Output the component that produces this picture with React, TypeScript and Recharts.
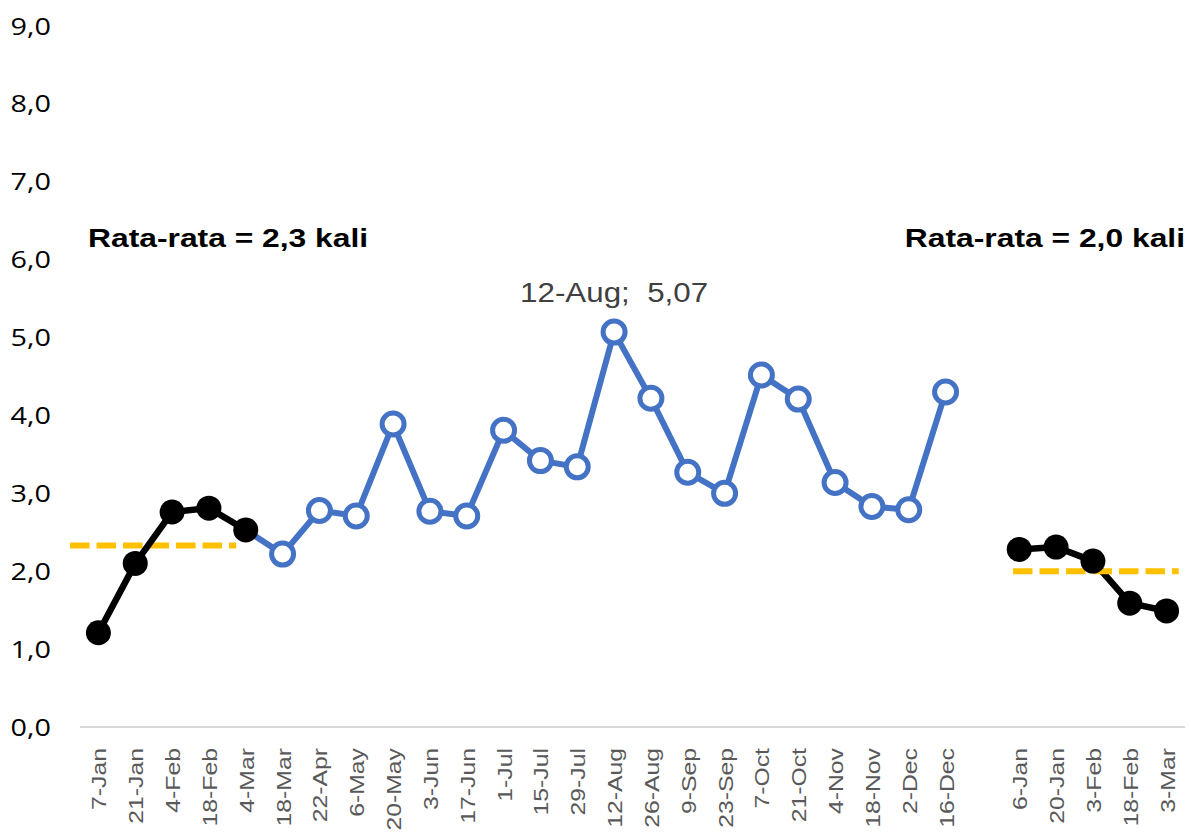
import {
  LineChart,
  Line,
  XAxis,
  YAxis,
  ReferenceLine,
  LabelList,
  Customized,
} from "recharts";

// periods of the x axis, "" is the gap between the two years
const categories = [
  "7-Jan", "21-Jan", "4-Feb", "18-Feb", "4-Mar", "18-Mar", "22-Apr", "6-May",
  "20-May", "3-Jun", "17-Jun", "1-Jul", "15-Jul", "29-Jul", "12-Aug", "26-Aug",
  "9-Sep", "23-Sep", "7-Oct", "21-Oct", "4-Nov", "18-Nov", "2-Dec", "16-Dec",
  "",
  "6-Jan", "20-Jan", "3-Feb", "18-Feb", "3-Mar",
];

// 7-Jan .. 4-Mar
const startValues = [1.21, 2.1, 2.76, 2.81, 2.53];
// 4-Mar .. 16-Dec
const midValues = [
  2.53, 2.22, 2.78, 2.71, 3.89, 2.77, 2.71, 3.81, 3.42, 3.34,
  5.07, 4.22, 3.27, 3.0, 4.52, 4.21, 3.14, 2.83, 2.79, 4.3,
];
// 6-Jan .. 3-Mar
const endValues = [2.28, 2.31, 2.13, 1.59, 1.49];

// averages and the stretch of category units they are drawn over
const averages = [2.33, 2.0];
const averageSpans = [
  [-0.77, 3.74],
  [24.83, 29.33],
];

const yTicks = [0, 1, 2, 3, 4, 5, 6, 7, 8, 9];

const midOffset = categories.indexOf("4-Mar");
const endOffset = categories.indexOf("6-Jan");
const peak = Math.max(...midValues);

const data = categories.map((label, i) => ({
  idx: i,
  label,
  start: i < startValues.length ? startValues[i] : null,
  mid: i >= midOffset && i - midOffset < midValues.length ? midValues[i - midOffset] : null,
  end: i >= endOffset ? endValues[i - endOffset] : null,
}));

const comma = (v: number, d: number) => v.toFixed(d).replace(".", ",");

const BLUE = "#4472C4";
const GOLD = "#FFC000";
const ARIAL = "'Liberation Sans', Arial, sans-serif";

function XTick({ x, y, payload }: any) {
  const label = categories[payload.value] ?? "";
  return (
    <g transform={`translate(${x},${y}) rotate(-90) scale(1.18,1)`}>
      <text textAnchor="end" dy="0.38em" fontFamily={ARIAL} fontSize={21} fill="#595959">
        {label}
      </text>
    </g>
  );
}

function YTick({ x, y, payload }: any) {
  return (
    <g transform={`translate(${x},${y}) scale(1.2,1)`}>
      <text textAnchor="end" dy="0.357em" fontFamily="'Open Sans', sans-serif" fontSize={24} fill="#000">
        {comma(payload.value, 1)}
      </text>
    </g>
  );
}

function BlueDot({ cx, cy, index }: any) {
  if (cx == null || cy == null || index === midOffset) return <g key={`b-${index}`} />;
  return <circle key={`b-${index}`} cx={cx} cy={cy} r={11} fill="#fff" stroke={BLUE} strokeWidth={5} />;
}

function PeakLabel({ x, y, value, index }: any) {
  if (value !== peak) return null;
  return (
    <g transform={`translate(${x},${y - 30}) scale(1.16,1)`}>
      <text textAnchor="middle" fontFamily={ARIAL} fontSize={27} fill="#404040" style={{ whiteSpace: "pre" }}>
        {`${categories[index]};  ${comma(value, 2)}`}
      </text>
    </g>
  );
}

function Annotations() {
  const style = { fontFamily: ARIAL, fontSize: 26.5, fontWeight: 700, fill: "#000" };
  return (
    <g>
      <g transform="translate(88,246.7) scale(1.2,1)">
        <text style={style}>{`Rata-rata = ${comma(averages[0], 1)} kali`}</text>
      </g>
      <g transform="translate(1185,246.7) scale(1.2,1)">
        <text style={style} textAnchor="end">{`Rata-rata = ${comma(averages[1], 1)} kali`}</text>
      </g>
    </g>
  );
}

export default function App() {
  return (
    <div style={{ position: "absolute", left: 0, top: 0, background: "#fff" }}>
      <LineChart width={1191} height={834} data={data} margin={{ top: 26, right: 6, bottom: 0, left: 0 }}>
        <XAxis
          dataKey="idx"
          type="number"
          domain={[-0.5, categories.length - 0.5]}
          ticks={categories.map((_, i) => i)}
          interval={0}
          tick={<XTick />}
          tickLine={false}
          tickSize={0}
          tickMargin={21}
          axisLine={{ stroke: "#D9D9D9", strokeWidth: 2 }}
          height={107}
        />
        <YAxis
          domain={[0, 9]}
          ticks={yTicks}
          tick={<YTick />}
          tickLine={false}
          tickSize={0}
          tickMargin={29}
          axisLine={false}
          width={80}
        />
        <ReferenceLine
          segment={[
            { x: averageSpans[0][0], y: averages[0] },
            { x: averageSpans[0][1], y: averages[0] },
          ]}
          stroke={GOLD}
          strokeWidth={6}
          strokeDasharray="19.5 7"
          ifOverflow="visible"
        />
        <Line
          dataKey="mid"
          stroke={BLUE}
          strokeWidth={6}
          dot={BlueDot}
          activeDot={false}
          isAnimationActive={false}
        >
          <LabelList dataKey="mid" content={PeakLabel} />
        </Line>
        <Line
          dataKey="start"
          stroke="#000"
          strokeWidth={6.5}
          dot={{ r: 12.5, fill: "#000", stroke: "none" }}
          activeDot={false}
          isAnimationActive={false}
        />
        <Line
          dataKey="end"
          stroke="#000"
          strokeWidth={6.5}
          dot={{ r: 12.5, fill: "#000", stroke: "none" }}
          activeDot={false}
          isAnimationActive={false}
        />
        <ReferenceLine
          segment={[
            { x: averageSpans[1][0], y: averages[1] },
            { x: averageSpans[1][1], y: averages[1] },
          ]}
          stroke={GOLD}
          strokeWidth={6}
          strokeDasharray="19.5 7"
          ifOverflow="visible"
        />
        <Customized component={<Annotations />} />
      </LineChart>
    </div>
  );
}
